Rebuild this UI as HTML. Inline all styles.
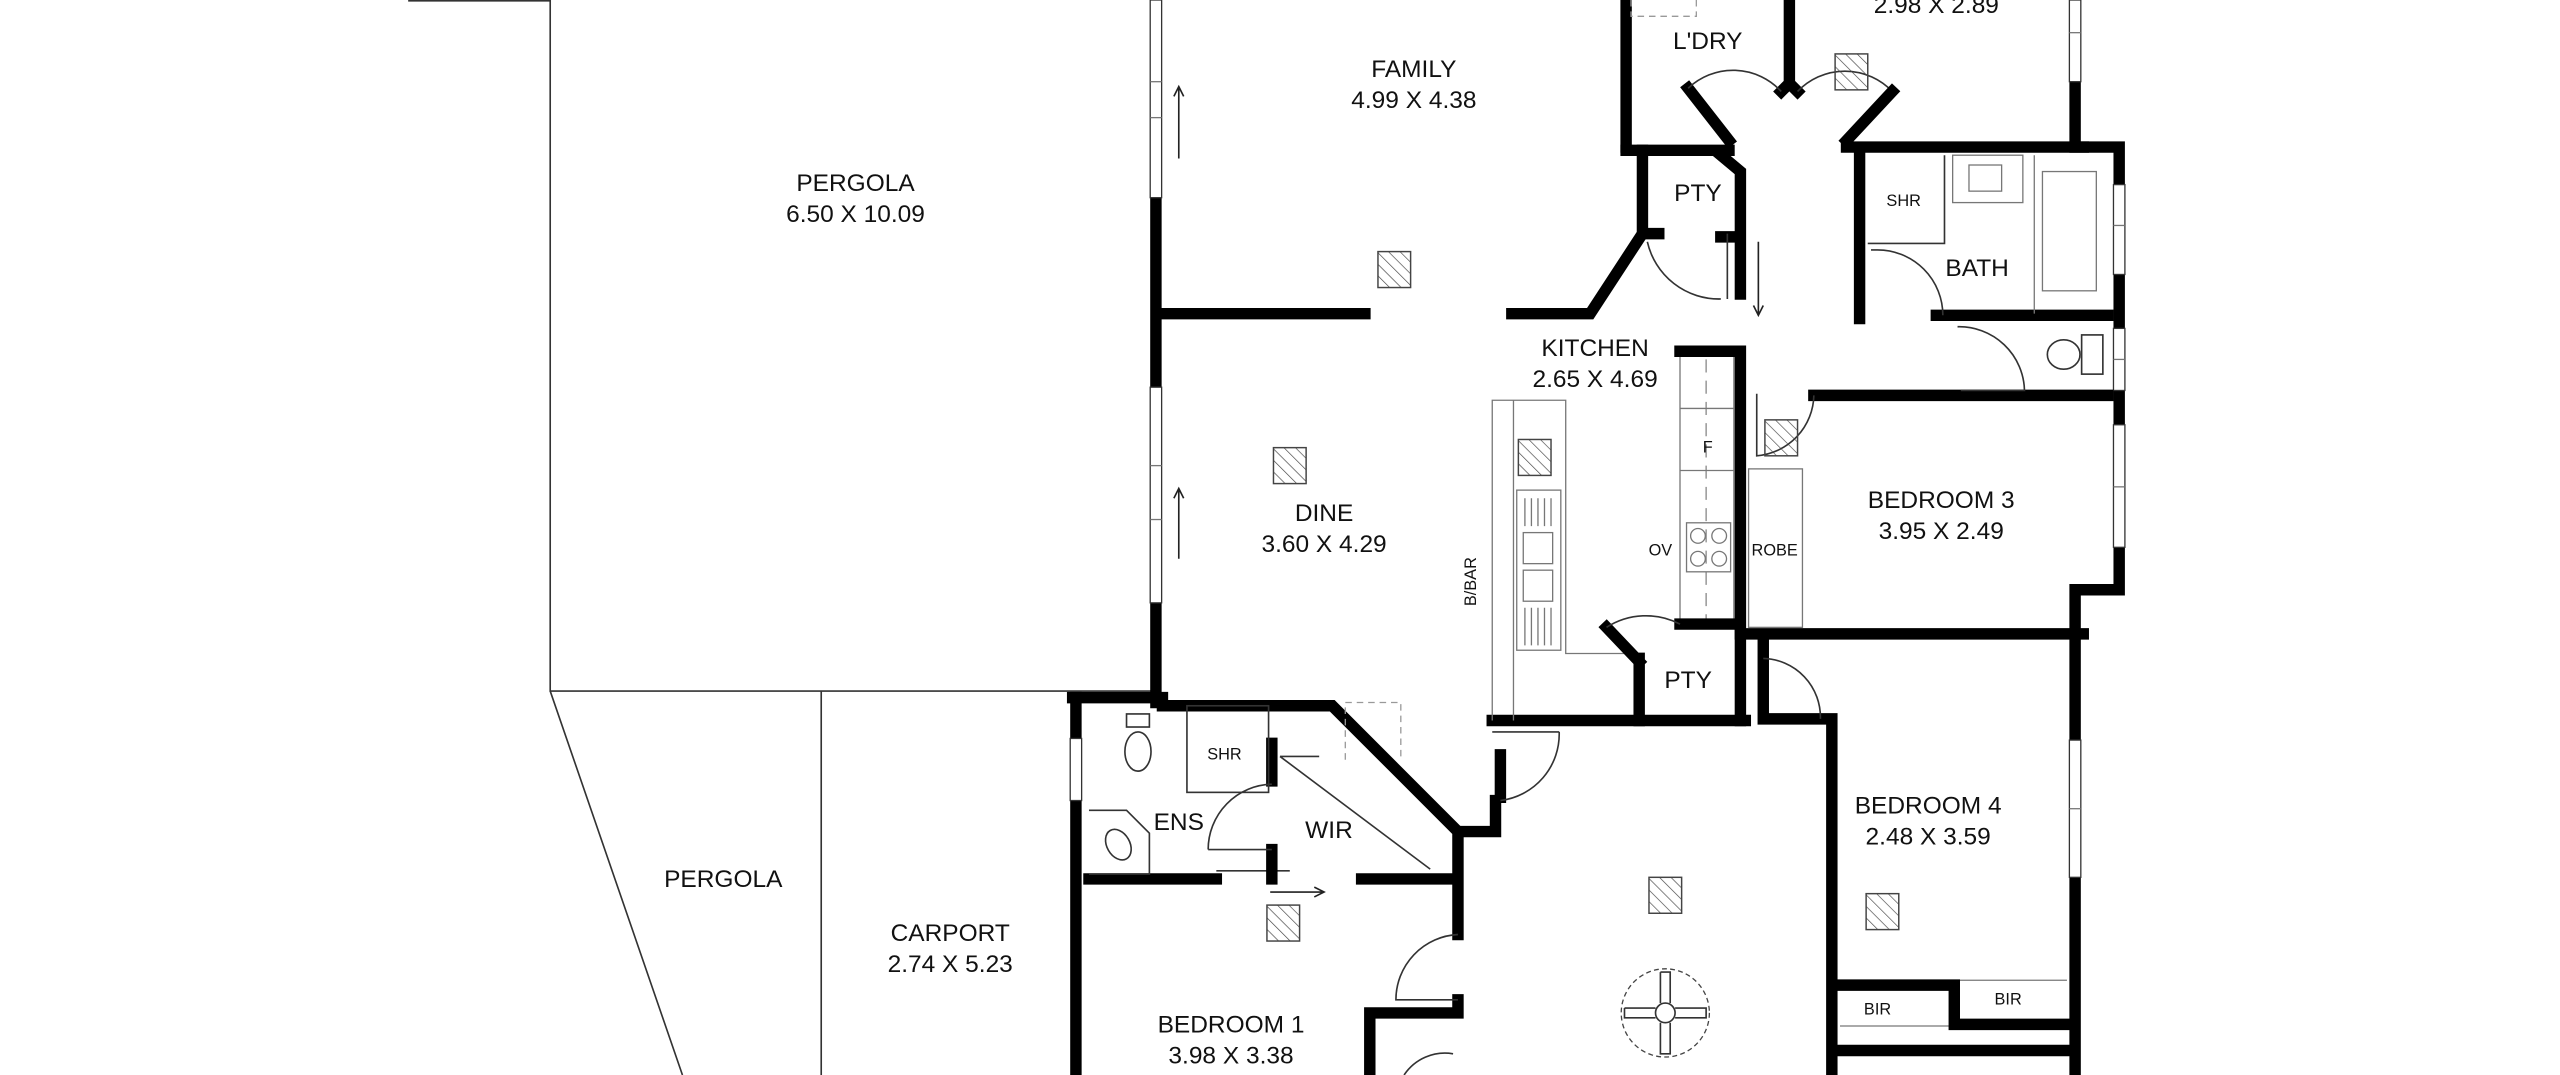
<!DOCTYPE html>
<html><head><meta charset="utf-8"><style>
html,body{margin:0;padding:0;background:#fff;width:2560px;height:1075px;overflow:hidden}
svg{display:block}
text{font-family:"Liberation Sans",sans-serif;fill:#111;text-anchor:middle}
.L{font-size:15px}
.s{font-size:10px}
.w{stroke:#000;stroke-width:7;fill:none;stroke-linecap:square}
.t{stroke:#333;stroke-width:1;fill:none}
.g{stroke:#777;stroke-width:0.8;fill:none}
.win{fill:#fff;stroke:#333;stroke-width:0.8}
.ar{stroke:#222;stroke-width:1;fill:none}
</style></head><body>
<svg width="2560" height="1075" viewBox="0 0 1568 658" preserveAspectRatio="none" xmlns="http://www.w3.org/2000/svg">
<defs>
<pattern id="h" width="5" height="5" patternUnits="userSpaceOnUse" patternTransform="rotate(-45)"><line x1="0" y1="0" x2="0" y2="5" stroke="#444" stroke-width="0.8"/></pattern>
<g id="tile"><rect x="-10" y="-11" width="20" height="22" fill="url(#h)" stroke="#444" stroke-width="0.9"/></g>
</defs>
<!-- pergola lines -->
<path class="t" d="M250 0.5H337V423H705 M337 423L418 658 M503 423V658"/>
<!-- left outer wall -->
<path class="w" d="M708 121V237 M708 369V430"/>
<rect class="win" x="704.5" y="0" width="7" height="121"/>
<line class="g" x1="704.5" y1="50" x2="711.5" y2="50"/><line class="g" x1="704.5" y1="72" x2="711.5" y2="72"/>
<rect class="win" x="704.5" y="237" width="7" height="132"/>
<line class="g" x1="704.5" y1="285" x2="711.5" y2="285"/><line class="g" x1="704.5" y1="318" x2="711.5" y2="318"/>
<path class="ar" d="M722 97V53 M719 59L722 53L725 59"/>
<path class="ar" d="M722 342V299 M719 305L722 299L725 305"/>
<!-- family/dine wall -->
<path class="w" d="M712 192H836 M926 192H974L1006 143V92"/>
<!-- ENS/WIR block -->
<path class="w" d="M657 427H712 M712 432H816L893 509V572 M893 612V620H839V658"/>
<path class="w" d="M659 427V452 M659 490V658"/>
<rect class="win" x="655.5" y="452" width="7" height="38"/>
<path class="w" d="M667 538H745 M834 538H891"/>
<line class="t" x1="745" y1="533" x2="790" y2="533"/>
<path class="ar" d="M778 546H811 M805 543L811 546L805 549"/>
<path class="w" d="M779 455V478 M779 520V538"/>
<path class="t" d="M740 520A40 40 0 0 1 779 480"/>
<path class="t" d="M740 520H779"/>
<rect class="t" x="727" y="432" width="50" height="53"/>
<ellipse class="t" cx="697" cy="460" rx="8" ry="12"/><rect class="t" x="690" y="437" width="14" height="8"/>
<path class="t" d="M667 496H690L704 510V535H667" /><ellipse class="t" cx="685" cy="517" rx="7" ry="10" transform="rotate(-30 685 517)"/>
<path class="t" d="M784 463H808 M784 463L876 532"/>
<path d="M824 465V430H858V465" fill="none" stroke="#999" stroke-width="0.8" stroke-dasharray="4 3"/>
<!-- hall / door near bbar -->
<path class="w" d="M914 441H1069"/>
<path class="w" d="M919 462V488 M916 490V509H894"/>
<path class="t" d="M914 448H955 M955 448A41 41 0 0 1 919 490"/>
<path class="t" d="M893 572A40 40 0 0 0 855 612H893"/>
<path class="t" d="M860 658A30 30 0 0 1 890 645"/>
<path class="w" d="M1122 440V658 M1080 392V440H1122"/>
<path class="t" d="M1080 403A36 36 0 0 1 1115 440"/>
<!-- kitchen -->
<path class="g" d="M914 441V245H959V400H1004 M927 245V441"/>
<rect class="g" x="929" y="300" width="27" height="98"/>
<rect class="g" x="933" y="326" width="18" height="19"/><rect class="g" x="933" y="349" width="18" height="19"/>
<path class="g" d="M934 305V322M938 305V322M942 305V322M946 305V322M950 305V322M934 372V395M938 372V395M942 372V395M946 372V395M950 372V395"/>
<rect class="g" x="1029" y="218" width="33" height="162"/>
<path d="M1045 220V380" stroke="#888" stroke-width="0.8" stroke-dasharray="8 5"/>
<path class="g" d="M1029 250H1062M1029 288H1062"/>
<rect class="g" x="1033" y="320" width="27" height="30"/>
<circle class="g" cx="1040" cy="328" r="4.5"/><circle class="g" cx="1053" cy="328" r="4.5"/><circle class="g" cx="1040" cy="342" r="4.5"/><circle class="g" cx="1053" cy="342" r="4.5"/>
<path class="w" d="M1029 215H1066V441 M1029 382H1066 M1004 403V441 M984 384L1004 405"/>
<path class="t" d="M984 384A45 45 0 0 1 1029 382"/>
<!-- upper PTY -->
<path class="w" d="M996 92H1059 M1034 54L1059 86 M1054 95L1066 105V143 M1066 180V143 M1009 143H1016 M1054 145H1062"/>
<path class="t" d="M1009 148A45 45 0 0 0 1054 183 M1058 143V183"/>
<path class="ar" d="M1077 148V193 M1074 187L1077 193L1080 187"/>
<!-- laundry -->
<path class="w" d="M996 0V90 M1096 0V51 L1091 56 M1096 51L1101 56"/>
<path d="M999 0V10H1039V0" fill="none" stroke="#999" stroke-width="0.8" stroke-dasharray="4 3"/>
<path class="t" d="M1034 54A40 40 0 0 1 1091 56 M1101 56A40 40 0 0 1 1159 56"/>
<path class="w" d="M1159 56L1131 86 M1131 90H1276"/>
<!-- top right room wall -->
<path class="w" d="M1271 50V90H1298V361H1271V658"/>
<rect class="win" x="1267.5" y="0" width="7" height="50"/><line class="g" x1="1267.5" y1="20" x2="1274.5" y2="20"/>
<rect class="win" x="1294.5" y="113" width="7" height="55"/><line class="g" x1="1294.5" y1="138" x2="1301.5" y2="138"/>
<rect class="win" x="1294.5" y="201" width="7" height="38"/><line class="g" x1="1294.5" y1="220" x2="1301.5" y2="220"/>
<rect class="win" x="1294.5" y="260" width="7" height="75"/><line class="g" x1="1294.5" y1="298" x2="1301.5" y2="298"/>
<rect class="win" x="1267.5" y="453" width="7" height="84"/><line class="g" x1="1267.5" y1="495" x2="1274.5" y2="495"/>
<!-- bath -->
<path class="w" d="M1139 92V195 M1186 193H1291 M1111 242H1291"/>
<path class="t" d="M1146 153H1150 M1150 153A40 40 0 0 1 1190 193"/>
<path class="t" d="M1144 149H1191V95"/>
<rect class="g" x="1196" y="95" width="43" height="29"/><rect class="g" x="1206" y="101" width="20" height="16"/>
<path class="g" d="M1246 95V192"/><rect class="g" x="1251" y="105" width="33" height="73"/>
<path class="t" d="M1199 200A40 40 0 0 1 1240 239H1201"/>
<ellipse class="t" cx="1264" cy="217" rx="10" ry="9"/><rect class="t" x="1275" y="205" width="13" height="24"/>
<path class="t" d="M1111 242A38 38 0 0 1 1076 279V241"/>
<rect class="g" x="1071" y="287" width="33" height="97"/>
<path class="w" d="M1066 388H1276"/>
<!-- bedroom 4 BIR -->
<path class="g" d="M1127 600H1266 M1127 628H1197"/>
<path class="w" d="M1127 603H1197V627H1266 M1127 643H1266"/>
<!-- tiles -->
<use href="#tile" x="1134" y="44"/><use href="#tile" x="854" y="165"/><use href="#tile" x="790" y="285"/>
<use href="#tile" x="940" y="280"/><use href="#tile" x="1091" y="268"/><use href="#tile" x="1020" y="548"/>
<use href="#tile" x="1153" y="558"/><use href="#tile" x="786" y="565"/>
<!-- fan -->
<circle cx="1020" cy="620" r="27" fill="none" stroke="#444" stroke-width="0.8" stroke-dasharray="3 2"/>
<circle cx="1020" cy="620" r="6" fill="none" stroke="#333"/>
<path class="t" d="M1017 595H1023V614 M1017 595V614 M1017 626V645H1023V626 M995 617V623H1014 M995 617H1014 M1026 617H1045V623H1026"/>
<!-- labels -->
<text x="1186" y="8" class="L">2.98 X 2.89</text>
<text x="1046" y="30" class="L">L'DRY</text>
<text x="866" y="47" class="L">FAMILY</text><text x="866" y="66" class="L">4.99 X 4.38</text>
<text x="524" y="117" class="L">PERGOLA</text><text x="524" y="136" class="L">6.50 X 10.09</text>
<text x="1040" y="123" class="L">PTY</text>
<text x="1166" y="126" class="s">SHR</text>
<text x="1211" y="169" class="L">BATH</text>
<text x="977" y="218" class="L">KITCHEN</text><text x="977" y="237" class="L">2.65 X 4.69</text>
<text x="1046" y="277" class="s">F</text>
<text x="1189" y="311" class="L">BEDROOM 3</text><text x="1189" y="330" class="L">3.95 X 2.49</text>
<text x="811" y="319" class="L">DINE</text><text x="811" y="338" class="L">3.60 X 4.29</text>
<text x="1017" y="340" class="s">OV</text><text x="1087" y="340" class="s">ROBE</text>
<text x="908" y="356" class="s" transform="rotate(-90 908 356)" dy="-4">B/BAR</text>
<text x="1034" y="421" class="L">PTY</text>
<text x="750" y="465" class="s">SHR</text>
<text x="1181" y="498" class="L">BEDROOM 4</text><text x="1181" y="517" class="L">2.48 X 3.59</text>
<text x="722" y="508" class="L">ENS</text><text x="814" y="513" class="L">WIR</text>
<text x="443" y="543" class="L">PERGOLA</text>
<text x="582" y="576" class="L">CARPORT</text><text x="582" y="595" class="L">2.74 X 5.23</text>
<text x="1150" y="621" class="s">BIR</text><text x="1230" y="615" class="s">BIR</text>
<text x="754" y="632" class="L">BEDROOM 1</text><text x="754" y="651" class="L">3.98 X 3.38</text>
</svg>
</body></html>
